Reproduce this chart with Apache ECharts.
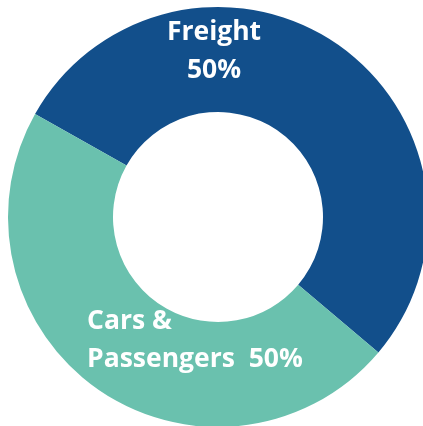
<!DOCTYPE html>
<html>
<head>
<meta charset="utf-8">
<script src="https://cdn.jsdelivr.net/npm/echarts@6/dist/echarts.min.js"></script>
<style>
  html, body { margin: 0; padding: 0; background: #fff; }
  #chart { width: 423px; height: 426px; }
</style>
</head>
<body>
<div id="chart"></div>
<script>
// slice names, drawn shares (read from the arcs) and the printed labels
const categories = ['Freight', 'Cars &\nPassengers '];
const shares = [53, 47];
const labelTexts = ['50%', '50%'];
const colors = ['#124F8B', '#6AC1AE'];

const myChart = echarts.init(document.getElementById('chart'));

// where each label sits (x, y, align)
const labelPos = [
  { x: 214, y: 51, align: 'center' },
  { x: 87, y: 340, align: 'left' }
];

const option = {
  animation: false,
  series: [
    {
      type: 'pie',
      center: [218, 217],
      radius: [105, 210],
      startAngle: 150.6,
      clockwise: true,
      avoidLabelOverlap: false,
      silent: true,
      data: categories.map((name, i) => ({
        name: name,
        value: shares[i],
        itemStyle: { color: colors[i] }
      })),
      label: {
        show: true,
        position: 'inside',
        color: '#ffffff',
        fontFamily: 'Open Sans',
        fontWeight: 'bold',
        fontSize: 26.5,
        lineHeight: 38,
        formatter: (p) => {
          if (p.dataIndex === 0) return p.name + '\n' + labelTexts[0];
          return p.name + ' ' + labelTexts[1];
        }
      },
      labelLine: { show: false },
      labelLayout: (params) => {
        const pos = labelPos[params.dataIndex];
        return { x: pos.x, y: pos.y, align: pos.align, verticalAlign: 'middle' };
      }
    }
  ]
};

myChart.setOption(option);
</script>
</body>
</html>
